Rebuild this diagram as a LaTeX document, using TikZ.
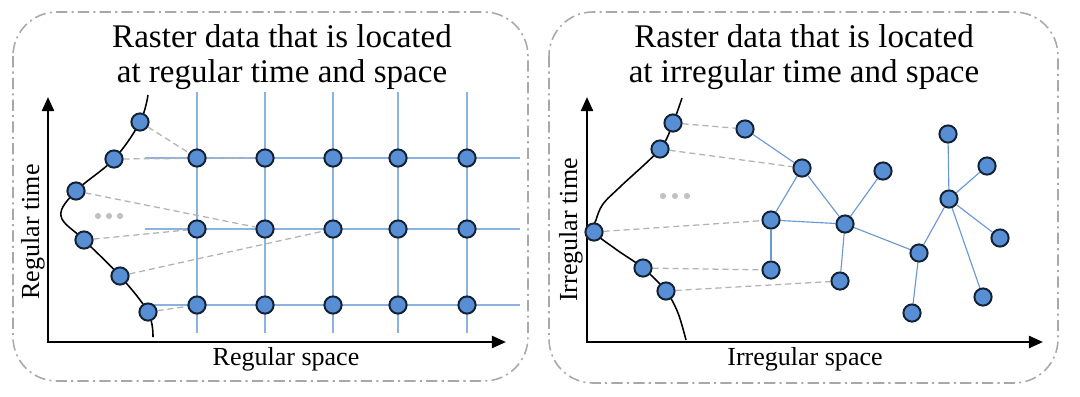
\documentclass[tikz,border=0pt]{standalone}
\usepackage{fontspec}
\setmainfont{Liberation Serif}
\usetikzlibrary{arrows.meta,backgrounds}
\definecolor{dotblue}{RGB}{88,142,212}
\definecolor{dotedge}{RGB}{20,34,54}
\definecolor{gridblue}{RGB}{140,178,228}
\definecolor{linkblue}{RGB}{104,150,214}
\definecolor{mapgray}{RGB}{178,178,178}
\definecolor{framegray}{RGB}{168,168,168}
\tikzset{
    rdot/.style={circle, draw=dotedge, fill=dotblue, line width=1.4pt, inner sep=0pt, minimum size=0.43cm},
    gridline/.style={draw=gridblue, line width=0.75pt},
    link/.style={draw=linkblue, line width=0.8pt},
    mapline/.style={draw=mapgray, dash pattern=on 4.3pt off 2.8pt, line width=0.9pt},
    panel/.style={draw=framegray, line width=1.1pt, rounded corners=1.1cm, dash pattern=on 8pt off 3pt on 1.5pt off 3pt},
    axis/.style={line width=1.8pt, {Triangle[length=10pt,width=8.5pt]}-{Triangle[length=10pt,width=8.5pt]}},
    heading/.style={align=center, font=\fontsize{23.5}{24.9}\selectfont},
    axislabel/.style={font=\fontsize{18.5}{22}\selectfont}
}
\begin{document}
\begin{tikzpicture}[x=0.025cm, y=-0.025cm]
    \useasboundingbox (0,0) rectangle (1080,396);
    \draw[panel] (13,12) rectangle (528,381);
    \draw[panel] (549,12) rectangle (1058,383);
    \node[heading] (lefttitle) at (282,57) {Raster data that is located\\at regular time and space};
    \node[heading] (righttitle) at (804,57) {Raster data that is located\\at irregular time and space};
    \node[axislabel, anchor=base] (lspace) at (286,365) {Regular space};
    \node[axislabel, rotate=90] (ltime) at (33,232) {Regular time};
    \node[axislabel, anchor=base] (rspace) at (805,365) {Irregular space};
    \node[axislabel, rotate=90] (rtime) at (571,230) {Irregular time};
    \draw[axis] (48,97) -- (48,342) -- (506,342);
    \draw[axis] (587,97) -- (587,342) -- (1043,342);
    \foreach \x [count=\c] in {197,265,333,398,467}
        \foreach \y [count=\r] in {158,229,305}
            \node[rdot] (g\c\r) at (\x,\y) {};
    \foreach \n/\x/\y in {t1/140/122, t2/114/159, t3/76/191, t4/84/240, t5/120/276, t6/148/312,
        s1/673/123, s2/660/149, s3/594/232, s4/643/268, s5/666/291}
        \node[rdot] (\n) at (\x,\y) {};
    \foreach \n/\x/\y in {A/745/129, B/802/168, C/883/171, D/771/220, E/845/224, F/771/270, G/840/281,
        H/919/253, I/949/199, J/948/134, K/987/166, L/1000/238, M/983/297, N/912/313}
        \node[rdot] (\n) at (\x,\y) {};
    \foreach \x in {98,109,120} \fill[mapgray!80] (\x,216) circle (2.2pt);
    \foreach \x in {663,675,687} \fill[mapgray!80] (\x,196) circle (2.2pt);
    \begin{scope}[on background layer]
        \foreach \x in {197,265,333,398,467} \draw[gridline] (\x,92) -- (\x,333);
        \foreach \y in {158,229,305} \draw[gridline] (145,\y) -- (520,\y);
        \foreach \a/\b in {t1/g11, t2/g21, t3/g22, t4/g12, t5/g32, t6/g13,
            s1/A, s2/B, s3/D, s4/F, s5/G}
            \draw[mapline] (\a) -- (\b);
        \foreach \a/\b in {A/B, B/D, B/E, D/E, D/F, E/C, E/G, E/H, H/I, H/N, I/J, I/K, I/L, I/M}
            \draw[link] (\a) -- (\b);
        \draw[line width=1.1pt] plot[smooth, tension=0.6] coordinates {(148,95) (140,122) (114,159) (76,191)
            (61,216) (84,240) (120,276) (148,312) (153,337)};
        \draw[line width=1.1pt] plot[smooth, tension=0.55] coordinates {(682,98) (673,123) (660,149) (621,186)
            (603,204) (596,220) (594,232) (617,250) (643,268) (666,291) (678,313) (686,340)};
    \end{scope}
\end{tikzpicture}
\end{document}
